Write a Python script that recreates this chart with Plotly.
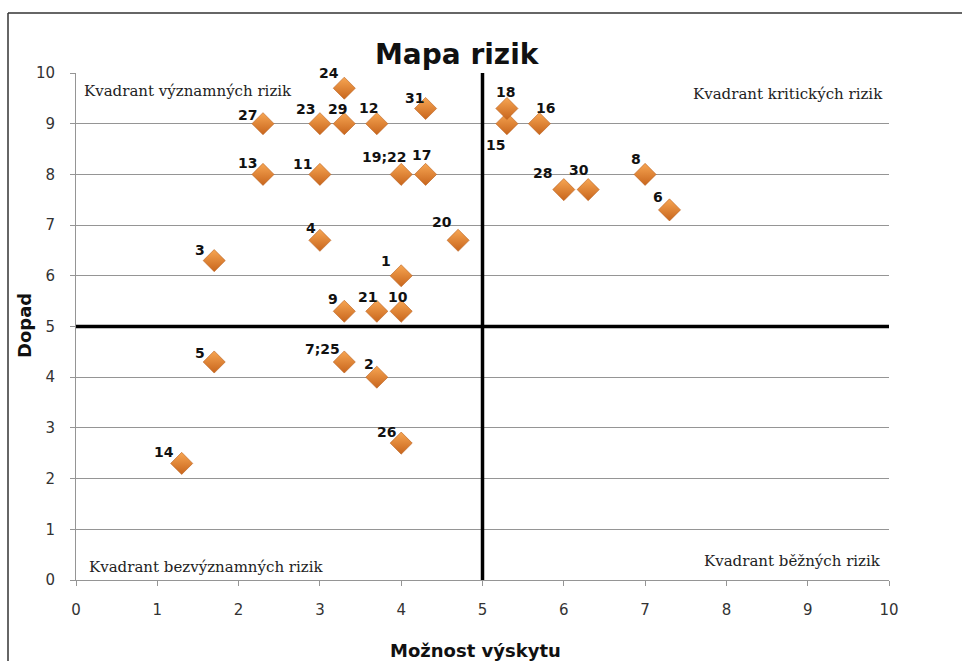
import plotly.graph_objects as go

# Risk register: likelihood (x), impact (y), risk id label
risk_ids = ["1", "2", "3", "4", "5", "6", "7;25", "8", "9", "10",
            "11", "12", "13", "14", "15", "16", "17", "18", "19;22", "20",
            "21", "23", "24", "26", "27", "28", "29", "30", "31"]
likelihood = [4.0, 3.7, 1.7, 3.0, 1.7, 7.3, 3.3, 7.0, 3.3, 4.0,
              3.0, 3.7, 2.3, 1.3, 5.3, 5.7, 4.3, 5.3, 4.0, 4.7,
              3.7, 3.0, 3.3, 4.0, 2.3, 6.0, 3.3, 6.3, 4.3]
impact = [6.0, 4.0, 6.3, 6.7, 4.3, 7.3, 4.3, 8.0, 5.3, 5.3,
          8.0, 9.0, 8.0, 2.3, 9.0, 9.0, 8.0, 9.3, 8.0, 6.7,
          5.3, 9.0, 9.7, 2.7, 9.0, 7.7, 9.0, 7.7, 9.3]

# Label offsets from each marker centre, in pixels (right, up)
label_dx = [-15, -8, -14, -9, -14, -11, -22, -9, -11, -3,
            -17, -8, -15, -18, -11, 6, -4, -1, -17, -16,
            -9, -14, -15, -15, -15, -21, -7, -9, -11]
label_dy = [15, 13, 11, 12, 9, 13, 13, 15, 12, 14,
            10, 16, 11, 11, -21, 16, 19, 16, 17, 18,
            14, 15, 15, 11, 9, 17, 15, 20, 10]

x_ticks = list(range(0, 11))
y_ticks = list(range(0, 11))
threshold_x = 5
threshold_y = 5

quadrant_labels = ["Kvadrant významných rizik", "Kvadrant kritických rizik",
                   "Kvadrant bezvýznamných rizik", "Kvadrant běžných rizik"]

W, H = 962, 661
L, R, T, B = 76, 73, 73, 81
PW, PH = W - L - R, H - T - B


def px_x(p):
    return (p - L) / PW


def px_y(p):
    return (H - B - p) / PH


fig = go.Figure()
fig.add_trace(go.Scatter(
    x=likelihood, y=impact, mode="markers",
    text=risk_ids,
    marker=dict(symbol="diamond", size=17, color="#F7A653",
                gradient=dict(type="vertical", color="#C8651C"),
                line=dict(width=0.6, color="#B8601E")),
    cliponaxis=False, showlegend=False, hoverinfo="x+y+text",
))

# Risk id labels next to the markers
for rid, xv, yv, dx, dy in zip(risk_ids, likelihood, impact, label_dx, label_dy):
    fig.add_annotation(x=xv, y=yv, text=f"<b>{rid}</b>", showarrow=False,
                       xanchor="center", yanchor="middle", xshift=dx, yshift=dy,
                       font=dict(family="DejaVu Sans", size=14, color="#111111"))

grid_grey = "#959595"
fig.update_xaxes(range=[0, 10], tickvals=x_ticks, showgrid=False, zeroline=False,
                 showline=True, linecolor=grid_grey, linewidth=1,
                 ticks="outside", ticklen=5, tickcolor=grid_grey, ticklabelstandoff=11,
                 tickfont=dict(family="DejaVu Sans", size=15, color="#333333"))
fig.update_yaxes(range=[0, 10], tickvals=y_ticks, showgrid=True, gridcolor=grid_grey, gridwidth=1,
                 zeroline=False, showline=True, linecolor=grid_grey, linewidth=1,
                 ticks="outside", ticklen=5, tickcolor=grid_grey, ticklabelstandoff=12,
                 tickfont=dict(family="DejaVu Sans", size=15, color="#333333"))

# Quadrant dividers
fig.add_shape(type="line", x0=threshold_x, x1=threshold_x, y0=0, y1=10.12,
              line=dict(color="black", width=3.5), layer="between")
fig.add_shape(type="line", x0=0, x1=10.2, y0=threshold_y, y1=threshold_y,
              line=dict(color="black", width=3.5), layer="between")

# Outer chart frame (top and left edges)
frame = dict(color="#333333", width=1.5)
fig.add_shape(type="line", xref="paper", yref="paper",
              x0=px_x(8), x1=px_x(W + 5), y0=px_y(13), y1=px_y(13), line=frame)
fig.add_shape(type="line", xref="paper", yref="paper",
              x0=px_x(8), x1=px_x(8), y0=px_y(13), y1=px_y(H + 5), line=frame)

serif = dict(family="DejaVu Serif", size=15, color="#222222")
fig.add_annotation(x=0.07, y=9.65, text=quadrant_labels[0], showarrow=False,
                   xanchor="left", yanchor="middle", font=serif)
fig.add_annotation(x=9.95, y=9.59, text=quadrant_labels[1], showarrow=False,
                   xanchor="right", yanchor="middle", font=serif)
fig.add_annotation(x=0.135, y=0.26, text=quadrant_labels[2], showarrow=False,
                   xanchor="left", yanchor="middle", font=serif)
fig.add_annotation(x=9.93, y=0.37, text=quadrant_labels[3], showarrow=False,
                   xanchor="right", yanchor="middle", font=serif)

# Title and axis titles
fig.add_annotation(xref="paper", yref="paper", x=px_x(457), y=px_y(54),
                   text="<b>Mapa rizik</b>", showarrow=False, xanchor="center", yanchor="middle",
                   font=dict(family="DejaVu Sans", size=28, color="#111111"))
fig.add_annotation(xref="paper", yref="paper", x=px_x(475), y=px_y(650),
                   text="<b>Možnost výskytu</b>", showarrow=False, xanchor="center", yanchor="middle",
                   font=dict(family="DejaVu Sans", size=18, color="#111111"))
fig.add_annotation(xref="paper", yref="paper", x=px_x(24), y=px_y(326),
                   text="<b>Dopad</b>", showarrow=False, textangle=-90, xanchor="center", yanchor="middle",
                   font=dict(family="DejaVu Sans", size=18, color="#111111"))

fig.update_layout(width=W, height=H, margin=dict(l=L, r=R, t=T, b=B),
                  paper_bgcolor="white", plot_bgcolor="white", showlegend=False)

fig.write_html("out.html")
